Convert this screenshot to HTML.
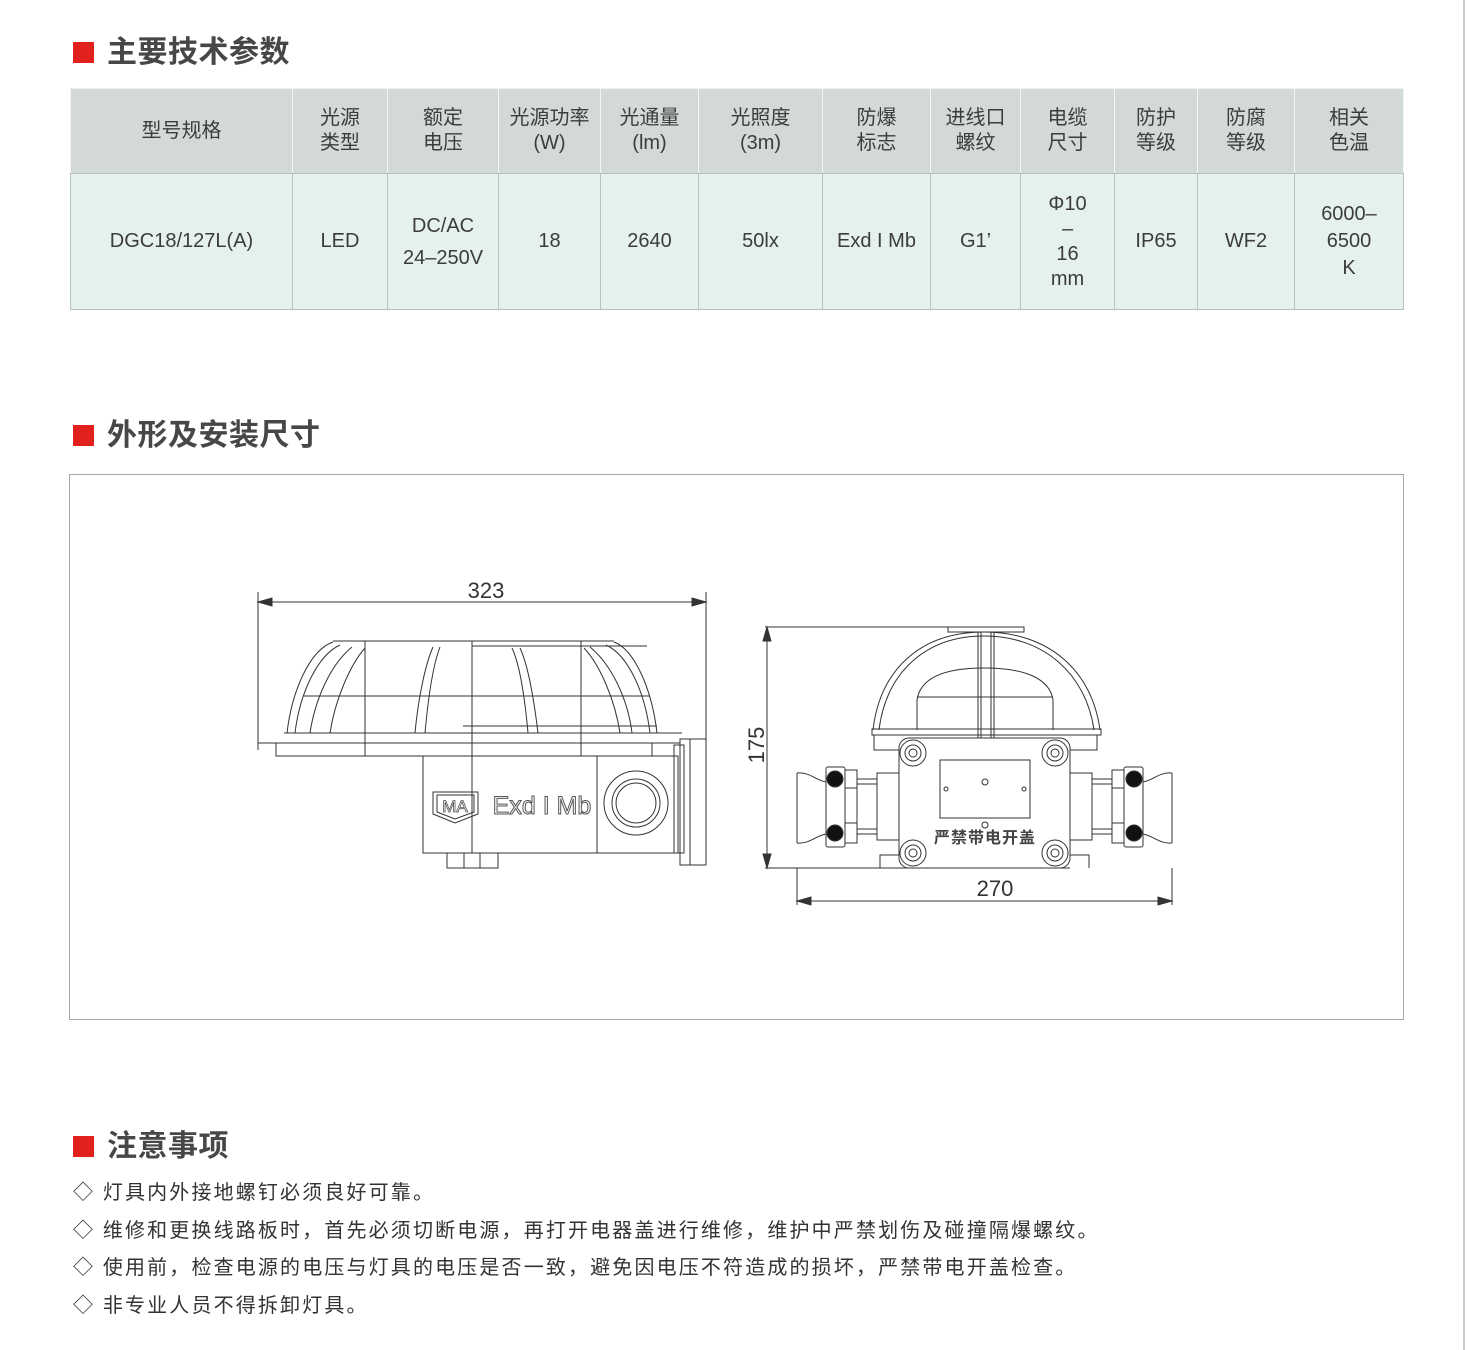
<!DOCTYPE html>
<html><head><meta charset="utf-8"><style>
*{margin:0;padding:0;box-sizing:border-box}
body{width:1467px;height:1350px;background:#fff;position:relative;overflow:hidden;font-family:"Liberation Sans","Noto Sans CJK SC",sans-serif;color:#3a3a3a}
.h{position:absolute;left:73px;font-size:30px;font-weight:bold;color:#474747;line-height:40px;letter-spacing:0.5px;font-family:"Liberation Sans","Noto Sans CJK SC",sans-serif}
.h i{display:inline-block;width:21px;height:21px;background:#e0211d;margin-right:13px;vertical-align:-1px}
table{position:absolute;left:70px;top:88px;border-collapse:collapse;width:1334px}
td{border:1px solid #b9c2be;text-align:center;font-size:20px;line-height:25px;color:#3c3c3c}
tr.hd td{background:#d3dad6;height:85px;border-color:#eef2f0 #f2f5f4 #b9c2be #f2f5f4}
tr.bd td{background:#e5f1eb;height:136px}
.n{position:absolute;left:73px;font-size:20px;letter-spacing:2.15px;color:#333;line-height:26px}
</style></head><body>
<div style="position:absolute;left:1463px;top:0;width:2px;height:1350px;background:#ccc"></div>
<div class="h" style="top:33px"><i></i>主要技术参数</div>
<table>
<tr class="hd"><td style="width:222px">型号规格</td><td style="width:95px">光源<br>类型</td><td style="width:111px">额定<br>电压</td><td style="width:102px">光源功率<br>(W)</td><td style="width:98px">光通量<br>(lm)</td><td style="width:124px">光照度<br>(3m)</td><td style="width:108px">防爆<br>标志</td><td style="width:90px">进线口<br>螺纹</td><td style="width:94px">电缆<br>尺寸</td><td style="width:83px">防护<br>等级</td><td style="width:97px">防腐<br>等级</td><td>相关<br>色温</td></tr>
<tr class="bd"><td>DGC18/127L(A)</td><td>LED</td><td style="line-height:32px">DC/AC<br>24–250V</td><td>18</td><td>2640</td><td>50lx</td><td>Exd I Mb</td><td>G1’</td><td>Φ10<br>–<br>16<br>mm</td><td>IP65</td><td>WF2</td><td style="line-height:27px">6000–<br>6500<br>K</td></tr>
</table>
<div class="h" style="top:416px"><i></i>外形及安装尺寸</div>
<div style="position:absolute;left:69px;top:474px;width:1335px;height:546px;border:1px solid #a8a8a8"></div>
<svg style="position:absolute;left:0;top:0" width="1467" height="1350" viewBox="0 0 1467 1350" fill="none" stroke="#333" stroke-width="1">
<line x1="258" y1="592" x2="258" y2="750"/><line x1="706" y1="592" x2="706" y2="770"/>
<line x1="260" y1="602" x2="704" y2="602"/>
<path d="M258 602 l14 -4 v8z M706 602 l-14 -4 v8z" fill="#333"/>
<text x="486" y="598" font-size="22" fill="#333" stroke="none" text-anchor="middle" font-family="Liberation Sans">323</text>
<path d="M333 641 H614 M287 733 C292 690 310 650 333 642 M657 733 C652 690 635 650 614 642"/>
<path d="M295 733 C300 692 318 655 340 645 M650 733 C645 692 628 655 606 645"/>
<path d="M310 733 C315 700 330 665 352 647 M330 733 C335 700 350 665 365 648 M415 733 C418 700 425 665 433 647 M425 733 C428 700 433 665 440 647 M528 733 C525 700 520 665 512 648 M538 733 C534 700 528 665 520 648 M620 733 C615 700 600 665 584 648 M632 733 C628 700 612 665 590 647"/>
<line x1="303" y1="696" x2="650" y2="696"/><line x1="463" y1="726" x2="657" y2="726"/><line x1="472" y1="646" x2="647" y2="646"/>
<path d="M284 733 H682 M258 733 V743 H680 M258 743 V733 M276 743 V756 H652 V743"/>
<line x1="365" y1="641" x2="365" y2="756"/><line x1="472" y1="641" x2="472" y2="853"/><line x1="581" y1="641" x2="581" y2="756"/>
<rect x="423" y="756" width="255" height="97"/><line x1="597" y1="756" x2="597" y2="853"/>
<rect x="680" y="739" width="26" height="126"/><line x1="690" y1="739" x2="690" y2="865"/><rect x="674" y="745" width="10" height="108"/>
<path d="M447 853 V868 H498 V853 M464 853 V868 M480 853 V868"/>
<circle cx="636" cy="803" r="32"/><circle cx="636" cy="803" r="24"/><circle cx="636" cy="803" r="20"/>
<path d="M433 792 H478 V814 L455 823 L433 814Z"/><path d="M437 795 H474 V812 L455 819 L437 812Z"/>
<text x="455" y="812" font-size="17" fill="#fff" stroke="#555" stroke-width="0.8" text-anchor="middle" font-family="Liberation Sans">MA</text>
<text x="542" y="814" font-size="25" fill="#fff" stroke="#555" stroke-width="1" text-anchor="middle" font-family="Liberation Sans">Exd I Mb</text>
<line x1="765" y1="627" x2="1023" y2="627"/><line x1="765" y1="868" x2="1070" y2="868"/>
<line x1="767" y1="629" x2="767" y2="866"/>
<path d="M767 627 l-4 14 h8z M767 868 l-4 -14 h8z" fill="#333"/>
<text transform="translate(764 745) rotate(-90)" font-size="22" fill="#333" stroke="none" text-anchor="middle" font-family="Liberation Sans">175</text>
<rect x="948" y="627" width="76" height="5"/>
<path d="M873 730 C880 670 920 632 984 632 C1048 632 1092 670 1100 730"/>
<path d="M879 730 C886 674 924 636 984 636 C1044 636 1086 674 1094 730"/>
<path d="M917 730 V700 C920 680 940 668 984 668 C1028 668 1050 680 1053 700 V730 M917 697 H1053"/>
<path d="M978 632 V738 M981 632 V738 M991 632 V738 M994 632 V738"/>
<rect x="872" y="729" width="229" height="6"/><path d="M874 735 V750 H899 M1097 735 V750 H1070"/>
<rect x="899" y="738" width="171" height="130" rx="10"/>
<rect x="940" y="760" width="90" height="58"/>
<circle cx="985" cy="782" r="3"/><circle cx="946" cy="789" r="2"/><circle cx="1024" cy="789" r="2"/><circle cx="985" cy="825" r="3"/>
<path d="M880 868 V855 H899 M1089 868 V855 H1070"/>
<g id="b"><circle cx="913" cy="753" r="13"/><circle cx="913" cy="753" r="8"/><circle cx="913" cy="753" r="4"/></g>
<use href="#b" x="142"/><use href="#b" y="100"/><use href="#b" x="142" y="100"/>
<g id="s"><path d="M797 773 C810 772 815 780 826 782 M797 843 C810 844 815 836 826 834 M797 773 V843"/>
<rect x="826" y="767" width="19" height="80" rx="2"/><circle cx="835" cy="779" r="8" fill="#111"/><circle cx="835" cy="833" r="8" fill="#111"/>
<path d="M845 770 H857 V843 H845 M845 788 H857 M845 823 H857 M857 779 H877 M857 784 H877 M857 829 H877 M857 834 H877"/>
<rect x="877" y="773" width="22" height="67"/></g>
<use href="#s" transform="translate(1969 0) scale(-1 1)"/>
<text x="985" y="843" font-size="16" font-weight="bold" fill="#444" stroke="none" text-anchor="middle" letter-spacing="1" font-family="Liberation Sans,Noto Sans CJK SC,sans-serif">严禁带电开盖</text>
<line x1="797" y1="868" x2="797" y2="905"/><line x1="1172" y1="868" x2="1172" y2="905"/>
<line x1="799" y1="901" x2="1170" y2="901"/>
<path d="M797 901 l14 -4 v8z M1172 901 l-14 -4 v8z" fill="#333"/>
<text x="995" y="896" font-size="22" fill="#333" stroke="none" text-anchor="middle" font-family="Liberation Sans">270</text>
</svg>
<div class="h" style="top:1127px"><i></i>注意事项</div>
<div class="n" style="top:1180px">◇ 灯具内外接地螺钉必须良好可靠。</div>
<div class="n" style="top:1218px">◇ 维修和更换线路板时，首先必须切断电源，再打开电器盖进行维修，维护中严禁划伤及碰撞隔爆螺纹。</div>
<div class="n" style="top:1255px">◇ 使用前，检查电源的电压与灯具的电压是否一致，避免因电压不符造成的损坏，严禁带电开盖检查。</div>
<div class="n" style="top:1293px">◇ 非专业人员不得拆卸灯具。</div>
</body></html>
